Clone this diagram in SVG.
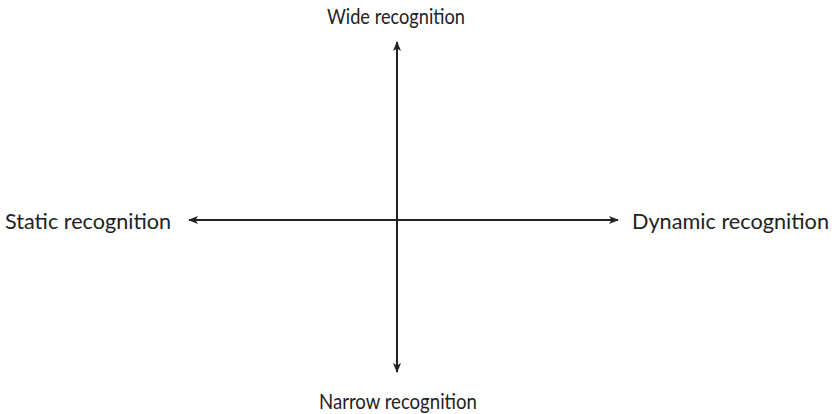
<svg xmlns="http://www.w3.org/2000/svg" width="834" height="414" viewBox="0 0 834 414">
<style>
.lbl{font-family:Lato,"Open Sans","Liberation Sans",sans-serif;font-size:20.5px;fill:#222}
.ax{stroke:#222;stroke-width:2;fill:none;marker-end:url(#ah)}
</style>
<defs>
<marker id="ah" markerWidth="10" markerHeight="8" refX="9" refY="4" orient="auto" markerUnits="userSpaceOnUse">
<path d="M0,0 L10,4 L0,8 L2.5,4 Z" fill="#222"/>
</marker>
</defs>
<rect width="834" height="414" fill="#fff"/>
<g id="connectors">
<line class="ax" x1="397" y1="220" x2="397" y2="42"/>
<line class="ax" x1="397" y1="220" x2="397" y2="372"/>
<line class="ax" x1="397" y1="220" x2="189" y2="220"/>
<line class="ax" x1="397" y1="220" x2="618" y2="220"/>
</g>
<g id="wide"><text class="lbl" x="327" y="23.5" textLength="138" lengthAdjust="spacingAndGlyphs">Wide recognition</text></g>
<g id="narrow"><text class="lbl" x="319" y="409" textLength="158" lengthAdjust="spacingAndGlyphs">Narrow recognition</text></g>
<g id="static"><text class="lbl" x="5" y="229" textLength="166" lengthAdjust="spacingAndGlyphs">Static recognition</text></g>
<g id="dynamic"><text class="lbl" x="632" y="229" textLength="197" lengthAdjust="spacingAndGlyphs">Dynamic recognition</text></g>
</svg>
